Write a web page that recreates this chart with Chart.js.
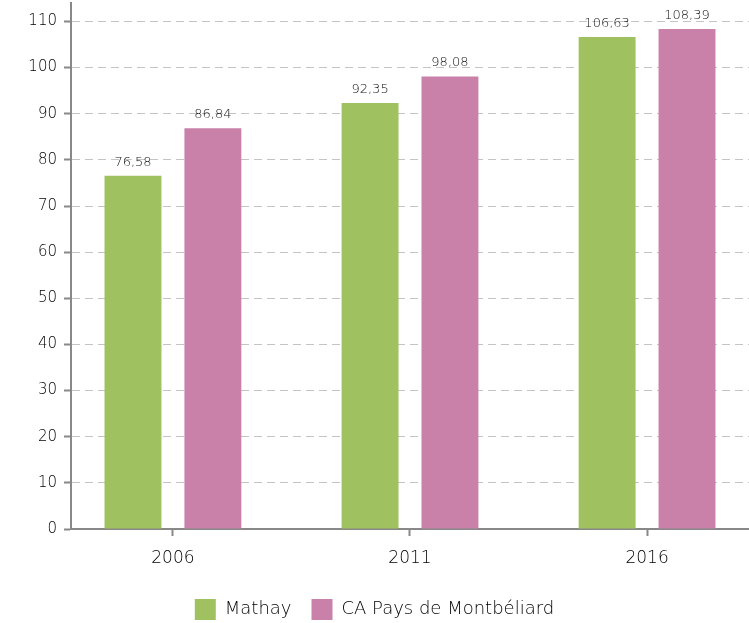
<!DOCTYPE html>
<html>
<head>
<meta charset="utf-8">
<script src="https://cdn.jsdelivr.net/npm/chart.js@4/dist/chart.umd.min.js"></script>
<style>
  html, body { margin: 0; padding: 0; background: #fff; }
  #wrap { width: 749px; height: 623px; }
</style>
</head>
<body>
<div id="wrap"><canvas id="chart-pop"></canvas></div>
<script>
// DATA
const years = ['2006', '2011', '2016'];
const mathay = [76.58, 92.35, 106.63];
const caPays = [86.84, 98.08, 108.39];
const yTicks = [0, 10, 20, 30, 40, 50, 60, 70, 80, 90, 100, 110];

const fontFamily = '"DejaVu Sans", sans-serif';
const textColor = '#000';

// value labels above each bar
const barLabels = {
    id: 'barLabels',
    afterDatasetsDraw(chart) {
        const ctx = chart.ctx;
        ctx.save();
        ctx.font = '200 13px ' + fontFamily;
        ctx.fillStyle = '#111';
        ctx.textAlign = 'center';
        ctx.textBaseline = 'bottom';
        chart.data.datasets.forEach((ds, i) => {
            chart.getDatasetMeta(i).data.forEach((bar, j) => {
                const txt = ds.data[j].y.toFixed(2).replace('.', ',');
                ctx.fillText(txt, bar.x, bar.y - 7);
            });
        });
        ctx.restore();
    }
};

const popCot = document.getElementById('chart-pop');

let popChart = new Chart(popCot, {
    type: 'bar',
    data: {
        datasets: [{
            label: 'Mathay',
            data: mathay.map((v, i) => ({ x: i, y: v })),
            backgroundColor: '#a0c15f'
        }, {
            label: 'CA Pays de Montbéliard',
            data: caPays.map((v, i) => ({ x: i, y: v })),
            backgroundColor: '#c981a9'
        }]
    },
    options: {
        responsive: true,
        maintainAspectRatio: false,
        animation: false,
        categoryPercentage: 0.674,
        barPercentage: 0.7125,
        layout: {
            padding: { top: 3, right: 0, left: 0, bottom: -7 }
        },
        scales: {
            x: {
                type: 'linear',
                offset: false,
                min: -0.43,
                max: 2.43,
                afterBuildTicks: (scale) => {
                    scale.ticks = years.map((_, i) => ({ value: i }));
                },
                afterFit: (scale) => {
                    scale.height = 50;
                    scale.paddingLeft = 0;
                    scale.paddingRight = 0;
                },
                ticks: {
                    callback: (v) => years[v],
                    color: textColor,
                    font: { family: fontFamily, size: 17, weight: 200 },
                    padding: 12
                },
                grid: {
                    offset: false,
                    drawOnChartArea: false,
                    drawTicks: true,
                    tickLength: 7,
                    tickColor: '#888',
                    tickWidth: 2
                },
                border: { color: '#888', width: 2 }
            },
            y: {
                min: 0,
                max: 114,
                afterBuildTicks: (scale) => {
                    scale.ticks = yTicks.map(v => ({ value: v }));
                },
                afterFit: (scale) => {
                    scale.width = 71;
                    scale.paddingTop = 0;
                    scale.paddingBottom = 0;
                },
                ticks: {
                    color: textColor,
                    font: { family: fontFamily, size: 15, weight: 200 },
                    padding: 7
                },
                grid: {
                    color: '#c4c4c4',
                    lineWidth: 1,
                    tickLength: 7,
                    tickColor: '#888',
                    tickWidth: 2
                },
                border: { color: '#888', width: 2, dash: [8, 5], display: true }
            }
        },
        plugins: {
            legend: {
                position: 'bottom',
                labels: {
                    boxWidth: 21,
                    boxHeight: 21,
                    padding: 20,
                    color: textColor,
                    font: { family: fontFamily, size: 18, weight: 200 }
                }
            },
            tooltip: { enabled: false }
        }
    },
    plugins: [barLabels]
});
</script>
</body>
</html>
